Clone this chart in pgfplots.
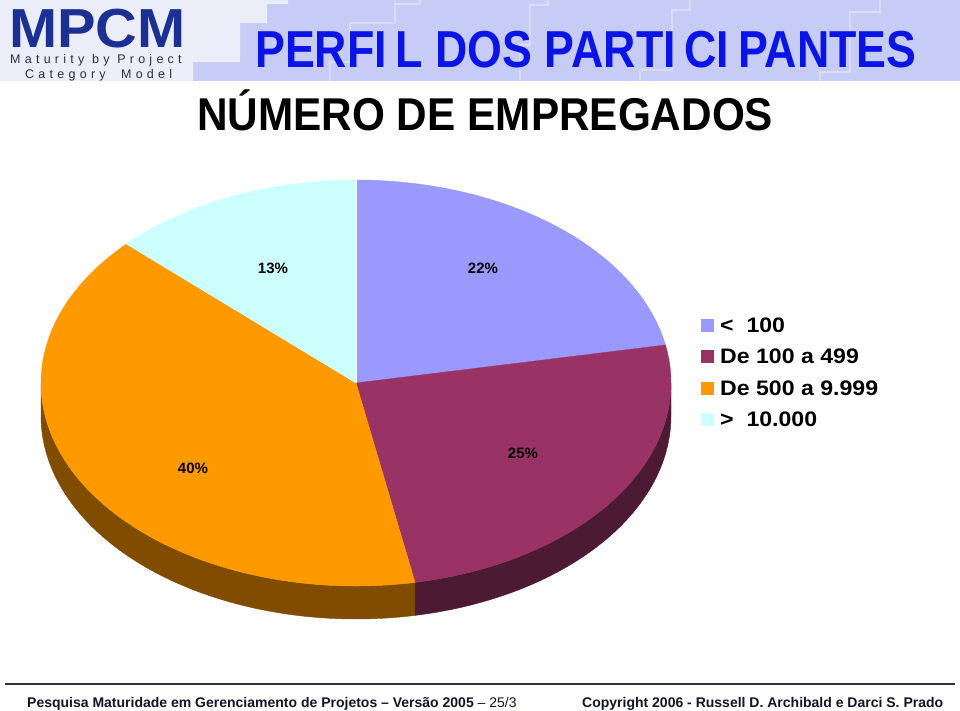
\documentclass[border=0pt]{standalone}
\usepackage{fontspec}
\setmainfont{Liberation Sans}
\newfontfamily\spaced[LetterSpace=34]{Liberation Sans}
\usepackage{graphicx}
\usepackage{pgfplots}
\usepackage{pgfplotstable}
\pgfplotsset{compat=1.18}

\definecolor{sA}{HTML}{9999FF}
\definecolor{sB}{HTML}{993366}
\definecolor{sC}{HTML}{FF9900}
\definecolor{sD}{HTML}{CCFFFF}
\definecolor{sBd}{HTML}{4D1A33}
\definecolor{sCd}{HTML}{804D00}
\definecolor{band}{HTML}{C6CCF5}
\definecolor{bandlight}{HTML}{EBEDF9}
\definecolor{bandline}{HTML}{D8DCF8}
\definecolor{titleblue}{HTML}{0A14E6}
\definecolor{logoblue}{HTML}{1C2F92}
\definecolor{logogray}{HTML}{2A2E40}
\definecolor{footer}{HTML}{141428}

% share of participants by number of employees (%)
\pgfplotstableread{
cat value
1 22
2 25
3 40
4 13
}\piedata

\begin{document}
\begin{tikzpicture}
\pgfplotstablegetelem{0}{value}\of\piedata \edef\va{\pgfplotsretval}
\pgfplotstablegetelem{1}{value}\of\piedata \edef\vb{\pgfplotsretval}
\pgfplotstablegetelem{2}{value}\of\piedata \edef\vc{\pgfplotsretval}
\pgfplotstablegetelem{3}{value}\of\piedata \edef\vd{\pgfplotsretval}
\pgfmathsetmacro\pa{\va}
\pgfmathsetmacro\pb{\va+\vb}
\pgfmathsetmacro\pc{\pb+\vc}
\pgfmathsetmacro\pd{\pc+\vd}
\pgfmathsetmacro\wBlo{max(\pa,25)}
\pgfmathsetmacro\wChi{min(\pc,75)}
\def\cx{356}\def\cy{383}\def\rx{315}\def\ry{203}\def\dd{33}
\begin{axis}[
  width=960pt, height=710pt, scale only axis,
  xmin=0, xmax=960, ymin=0, ymax=710, y dir=reverse,
  hide axis, clip=false,
]
% background and header band
\fill[white] (axis cs:0,0) rectangle (axis cs:960,710);
\fill[band] (axis cs:0,0) rectangle (axis cs:960,81);
\fill[bandlight] (axis cs:0,0) -- (axis cs:288,0) -- (axis cs:288,4) -- (axis cs:267,4)
  -- (axis cs:267,23) -- (axis cs:240,23) -- (axis cs:240,62) -- (axis cs:193,62)
  -- (axis cs:193,81) -- (axis cs:0,81) -- cycle;
\draw[bandline, line width=1.2pt] (axis cs:420,0) -- (axis cs:420,4) -- (axis cs:395,4) -- (axis cs:395,23) -- (axis cs:350,23) -- (axis cs:350,62) -- (axis cs:330,62) -- (axis cs:330,81);
\draw[bandline, line width=1.2pt] (axis cs:548,0) -- (axis cs:548,5) -- (axis cs:530,5) -- (axis cs:530,45) -- (axis cs:520,45) -- (axis cs:520,81);
\draw[bandline, line width=1.2pt] (axis cs:690,0) -- (axis cs:690,10) -- (axis cs:672,10) -- (axis cs:672,70) -- (axis cs:640,70) -- (axis cs:640,81);
\draw[bandline, line width=1.2pt] (axis cs:880,0) -- (axis cs:880,12) -- (axis cs:850,12) -- (axis cs:850,72) -- (axis cs:820,72) -- (axis cs:820,81);

% side walls of the pie (visible front half): top arc, vertical edge, bottom arc back
\addplot[fill=sCd, draw=sCd, forget plot, domain=0:3, samples=301, variable=\t]
  ({\cx+\rx*sin(3.6*(\pb+(\wChi-\pb)*(min(\t,1)-max(\t-2,0))))},
   {\cy-\ry*cos(3.6*(\pb+(\wChi-\pb)*(min(\t,1)-max(\t-2,0))))+\dd*min(max(\t-1,0),1)}) -- cycle;
\addplot[fill=sBd, draw=sBd, forget plot, domain=0:3, samples=301, variable=\t]
  ({\cx+\rx*sin(3.6*(\wBlo+(\pb-\wBlo)*(min(\t,1)-max(\t-2,0))))},
   {\cy-\ry*cos(3.6*(\wBlo+(\pb-\wBlo)*(min(\t,1)-max(\t-2,0))))+\dd*min(max(\t-1,0),1)}) -- cycle;

% top faces of the slices
\addplot[fill=sA, draw=sA, domain=0:\pa, samples=80, variable=\t]
  ({\cx+\rx*sin(3.6*\t)},{\cy-\ry*cos(3.6*\t)}) -- (axis cs:\cx,\cy) -- cycle;
\addplot[fill=sB, draw=sB, domain=\pa:\pb, samples=80, variable=\t]
  ({\cx+\rx*sin(3.6*\t)},{\cy-\ry*cos(3.6*\t)}) -- (axis cs:\cx,\cy) -- cycle;
\addplot[fill=sC, draw=sC, domain=\pb:\pc, samples=120, variable=\t]
  ({\cx+\rx*sin(3.6*\t)},{\cy-\ry*cos(3.6*\t)}) -- (axis cs:\cx,\cy) -- cycle;
\addplot[fill=sD, draw=sD, domain=\pc:\pd, samples=60, variable=\t]
  ({\cx+\rx*sin(3.6*\t)},{\cy-\ry*cos(3.6*\t)}) -- (axis cs:\cx,\cy) -- cycle;
\draw[white, line width=0.8pt] (axis cs:\cx,\cy) -- (axis cs:\cx,180);

% slice labels
\node[font=\fontsize{15}{17}\selectfont\bfseries, inner sep=0pt] at (axis cs:273,268) {\vd\%};
\node[font=\fontsize{15}{17}\selectfont\bfseries, inner sep=0pt] at (axis cs:483,268) {\va\%};
\node[font=\fontsize{15}{17}\selectfont\bfseries, inner sep=0pt] at (axis cs:523,453) {\vb\%};
\node[font=\fontsize{15}{17}\selectfont\bfseries, inner sep=0pt] at (axis cs:193,468) {\vc\%};

% legend
\fill[sA] (axis cs:701,319) rectangle (axis cs:714,332);
\fill[sB] (axis cs:701,350) rectangle (axis cs:714,363);
\fill[sC] (axis cs:701,382) rectangle (axis cs:714,395);
\fill[sD] (axis cs:701,413) rectangle (axis cs:714,426);
\node[anchor=west, inner sep=0pt] at (axis cs:720,325.5) {\scalebox{1.1}[1]{\fontsize{21}{24}\selectfont\bfseries <\ \ 100}};
\node[anchor=west, inner sep=0pt] at (axis cs:720,356.5) {\scalebox{1.1}[1]{\fontsize{21}{24}\selectfont\bfseries De 100 a 499}};
\node[anchor=west, inner sep=0pt] at (axis cs:720,388.5) {\scalebox{1.1}[1]{\fontsize{21}{24}\selectfont\bfseries De 500 a 9.999}};
\node[anchor=west, inner sep=0pt] at (axis cs:720,419.5) {\scalebox{1.1}[1]{\fontsize{21}{24}\selectfont\bfseries >\ \ 10.000}};

% logo
\node[anchor=base west, inner sep=0pt, text=logoblue] at (axis cs:9,47) {\scalebox{1.05}[1]{\fontsize{55}{60}\selectfont\bfseries MPCM}};
\node[anchor=base west, inner sep=0pt, text=logogray] at (axis cs:10,63.5) {\fontsize{12.5}{14}\selectfont\spaced Maturity by Project};
\node[anchor=base west, inner sep=0pt, text=logogray] at (axis cs:25,78) {\fontsize{12.5}{14}\selectfont\spaced Category\ \ Model};

% titles
\node[anchor=base west, inner sep=0pt, text=titleblue] at (axis cs:255,67) {\scalebox{0.86}[1]{\fontsize{52}{60}\selectfont\bfseries PERFI\hspace{0.2em}L DOS PARTI\hspace{0.2em}CI\hspace{0.2em}PANTES}};
\node[anchor=base west, inner sep=0pt, text=black] at (axis cs:197,130) {\scalebox{0.92}[1]{\fontsize{46}{52}\selectfont\bfseries NÚMERO DE EMPREGADOS}};

% footer
\draw[black!80, line width=2.5pt] (axis cs:5,684) -- (axis cs:955,684);
\node[anchor=base west, inner sep=0pt, text=footer] at (axis cs:27,707) {\fontsize{14}{16}\selectfont\bfseries Pesquisa Maturidade em Gerenciamento de Projetos -- Versão 2005 \mdseries -- 25/3};
\node[anchor=base west, inner sep=0pt, text=footer] at (axis cs:582,707) {\fontsize{14}{16}\selectfont\bfseries Copyright 2006 - Russell D. Archibald e Darci S. Prado};
\end{axis}
\pgfresetboundingbox
\path (current axis.south west) rectangle (current axis.north east);
\end{tikzpicture}
\end{document}
